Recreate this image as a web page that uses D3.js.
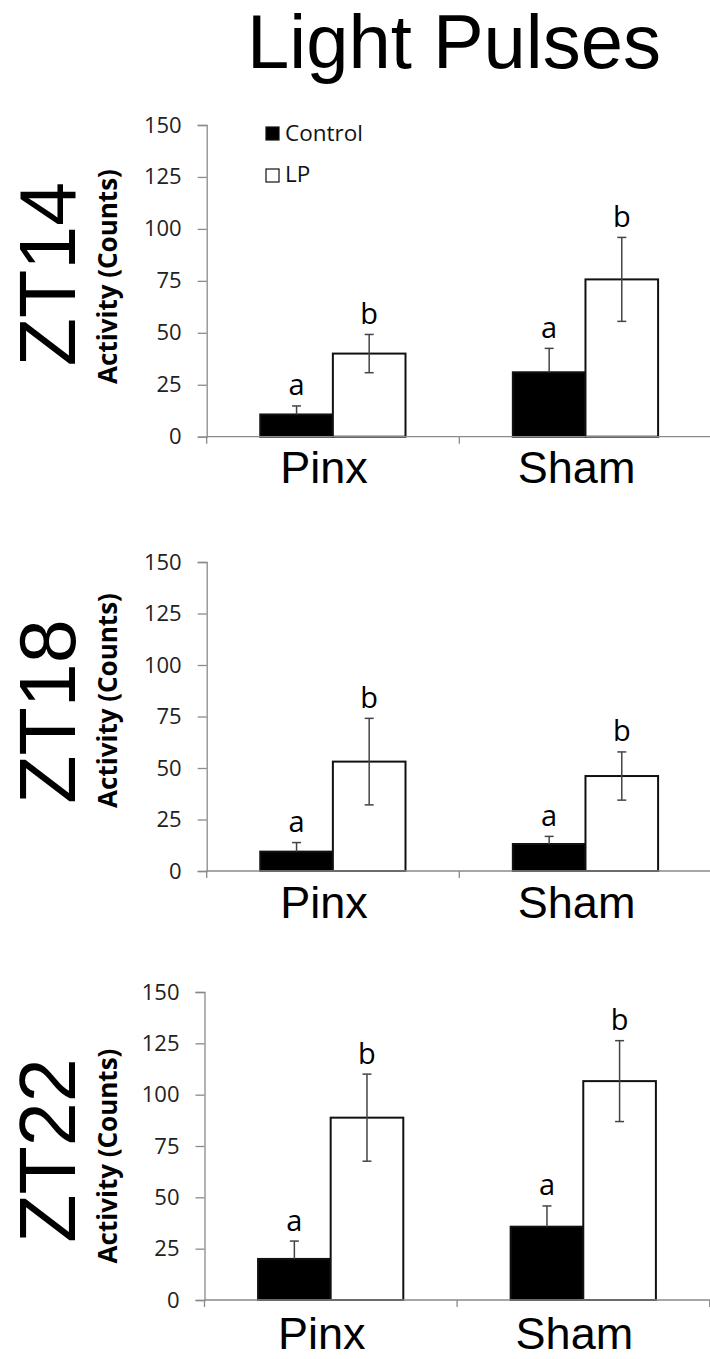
<!DOCTYPE html>
<html>
<head>
<meta charset="utf-8">
<script src="https://cdn.jsdelivr.net/npm/d3@7/dist/d3.min.js"></script>
<style>
  body { margin: 0; background: #fff; }
</style>
</head>
<body>
<div id="chart"></div>
<script>
'use strict';

// data -----------------------------------------
const groups        = ['Pinx', 'Sham']
const series        = ['Control', 'LP']
const panel_names   = ['ZT14', 'ZT18', 'ZT22']
const control_mean  = [[10.7, 31.0], [9.4, 13.1], [20.0, 35.7]]
const control_err   = [[4.1, 11.5], [4.4, 3.7], [8.7, 10.1]]
const lp_mean       = [[40.0, 75.7], [53.1, 46.1], [88.8, 106.6]]
const lp_err        = [[9.2, 20.2], [21.0, 11.7], [21.2, 19.7]]
const sig_letters   = ['a', 'b']   // control, LP
const y_ticks       = [0, 25, 50, 75, 100, 125, 150]

// layout ---------------------
const width  = 710
const height = 1359
const band_w = 252.6
const axis_grey = '#8a8a8a'
const err_color = '#444'
const panels = [
    {axisX: 206.7, y0: 436.7, y150: 125,  ztY: 274,    labY: 276.5, xlab: 46.6},
    {axisX: 206.7, y0: 871,   y150: 562,  ztY: 711.5,  labY: 700.5, xlab: 47},
    {axisX: 204.5, y0: 1300,  y150: 992,  ztY: 1150.5, labY: 1156,  xlab: 49}
]
const fills = ['#000', '#fff']

var svg = d3.select('#chart').append('svg')
    .attr('width', width)
    .attr('height', height)

svg.append('rect')
    .attr('width', width).attr('height', height).attr('fill', '#fff')

// main title
svg.append('text')
    .attr('x', 454)
    .attr('y', 68)
    .attr('text-anchor', 'middle')
    .attr('font-family', 'Liberation Sans, Arial, sans-serif')
    .attr('font-size', 76)
    .attr('fill', '#000')
    .text('Light Pulses')

panels.forEach(function(p, pi) {

    var g = svg.append('g')

    var y = d3.scaleLinear().domain([0, 150]).range([p.y0, p.y150])
    var x0 = d3.scaleBand().domain(groups)
        .range([p.axisX, p.axisX + band_w * groups.length])
    var x1 = d3.scaleBand().domain(series)
        .range([band_w * 0.212, band_w * 0.787])

    var rows = []
    groups.forEach(function(grp, gi) {
        rows.push({grp: grp, s: 0, mean: control_mean[pi][gi], err: control_err[pi][gi]})
        rows.push({grp: grp, s: 1, mean: lp_mean[pi][gi], err: lp_err[pi][gi]})
    })

    // BARS
    g.selectAll('rect.bar').data(rows).enter().append('rect')
        .attr('class', 'bar')
        .attr('x', function(d) { return x0(d.grp) + x1(series[d.s]) })
        .attr('y', function(d) { return y(d.mean) })
        .attr('width', x1.bandwidth())
        .attr('height', function(d) { return y(0) - y(d.mean) })
        .attr('fill', function(d) { return fills[d.s] })
        .attr('stroke', '#111')
        .attr('stroke-width', 2)

    // ERROR BARS (control only shows the upper half over the black bar)
    var cx = function(d) { return x0(d.grp) + x1(series[d.s]) + x1.bandwidth() / 2 }
    g.selectAll('line.err').data(rows).enter().append('line')
        .attr('x1', cx).attr('x2', cx)
        .attr('y1', function(d) { return y(d.mean + d.err) })
        .attr('y2', function(d) { return d.s == 0 ? y(d.mean) : y(d.mean - d.err) })
        .attr('stroke', err_color).attr('stroke-width', 1.5)
    g.selectAll('line.capt').data(rows).enter().append('line')
        .attr('x1', function(d) { return cx(d) - 4.5 })
        .attr('x2', function(d) { return cx(d) + 4.5 })
        .attr('y1', function(d) { return y(d.mean + d.err) })
        .attr('y2', function(d) { return y(d.mean + d.err) })
        .attr('stroke', err_color).attr('stroke-width', 1.5)
    g.selectAll('line.capb').data(rows.filter(function(d) { return d.s == 1 })).enter().append('line')
        .attr('x1', function(d) { return cx(d) - 4.5 })
        .attr('x2', function(d) { return cx(d) + 4.5 })
        .attr('y1', function(d) { return y(d.mean - d.err) })
        .attr('y2', function(d) { return y(d.mean - d.err) })
        .attr('stroke', err_color).attr('stroke-width', 1.5)

    // SIGNIFICANCE LETTERS
    g.selectAll('text.sig').data(rows).enter().append('text')
        .attr('x', cx)
        .attr('y', function(d) { return y(d.mean + d.err) - 10.5 })
        .attr('text-anchor', 'middle')
        .attr('font-family', 'Open Sans, sans-serif')
        .attr('font-size', 29)
        .attr('fill', '#000')
        .text(function(d) { return sig_letters[d.s] })

    // Y AXIS
    var yAxis = g.append('g')
        .attr('transform', 'translate(' + p.axisX + ',0)')
        .call(d3.axisLeft(y).tickValues(y_ticks).tickSize(9).tickPadding(16))
    yAxis.select('.domain').attr('stroke', axis_grey).attr('stroke-width', 1.3)
    yAxis.selectAll('.tick line').attr('stroke', axis_grey).attr('stroke-width', 1.3)
    yAxis.selectAll('.tick text')
        .attr('font-family', 'Open Sans, sans-serif')
        .attr('font-size', 22)
        .attr('fill', '#222')

    // X AXIS with ticks at the group boundaries
    var bounds = groups.map(function(d) { return x0(d) }).concat([x0.range()[1]])
    g.append('line')
        .attr('x1', p.axisX).attr('x2', width + 5)
        .attr('y1', y(0)).attr('y2', y(0))
        .attr('stroke', axis_grey).attr('stroke-width', 1.3)
    g.selectAll('line.xtick').data(bounds).enter().append('line')
        .attr('x1', function(d) { return d }).attr('x2', function(d) { return d })
        .attr('y1', y(0)).attr('y2', y(0) + 7)
        .attr('stroke', axis_grey).attr('stroke-width', 1.3)

    g.selectAll('text.xlab').data(groups).enter().append('text')
        .attr('x', function(d) { return x0(d) + x0.bandwidth() / 2 - 9 })
        .attr('y', y(0) + p.xlab)
        .attr('text-anchor', 'middle')
        .attr('font-family', 'Liberation Sans, Arial, sans-serif')
        .attr('font-size', 45)
        .attr('fill', '#000')
        .text(function(d) { return d })

    // AXIS TITLE
    g.append('text')
        .attr('transform', 'translate(116.5,' + p.labY + ') rotate(-90)')
        .attr('text-anchor', 'middle')
        .attr('font-family', 'Open Sans, sans-serif')
        .attr('font-weight', 'bold')
        .attr('font-size', 26)
        .attr('fill', '#000')
        .text('Activity (Counts)')

    // PANEL NAME
    g.append('text')
        .attr('transform', 'translate(75,' + p.ztY + ') rotate(-90)')
        .attr('text-anchor', 'middle')
        .attr('font-family', 'Liberation Sans, Arial, sans-serif')
        .attr('font-size', 79)
        .attr('fill', '#000')
        .text(panel_names[pi])
})

// LEGEND (top panel only) ---------------------
var legend = svg.append('g')
legend.selectAll('rect').data(series).enter().append('rect')
    .attr('x', 266)
    .attr('y', function(d, i) { return 127 + i * 42 })
    .attr('width', 13).attr('height', 13)
    .attr('fill', function(d, i) { return fills[i] })
    .attr('stroke', '#111').attr('stroke-width', 1.2)
legend.selectAll('text').data(series).enter().append('text')
    .attr('x', 285)
    .attr('y', function(d, i) { return 140.5 + i * 41.5 })
    .attr('font-family', 'Open Sans, sans-serif')
    .attr('font-size', 22.5)
    .attr('fill', '#111')
    .text(function(d) { return d })
</script>
</body>
</html>
